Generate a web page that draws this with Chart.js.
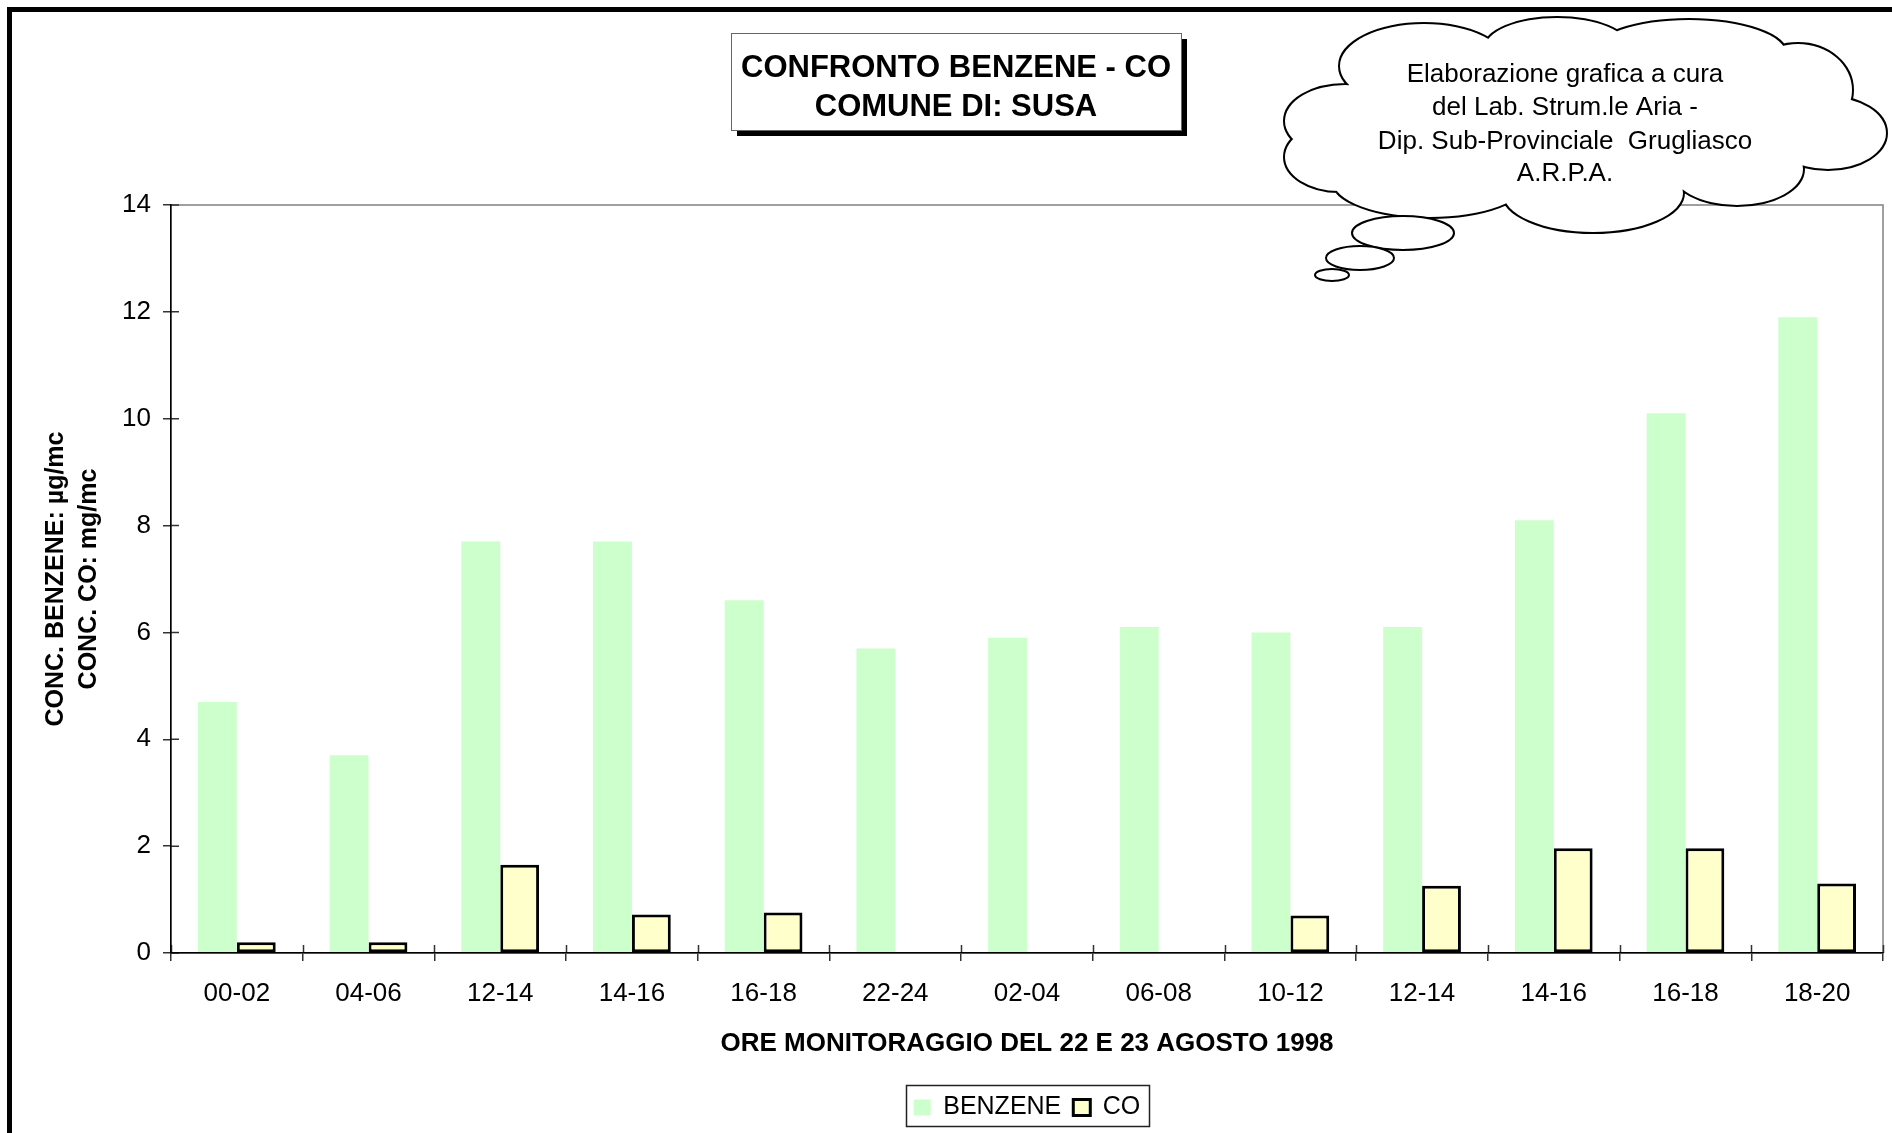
<!DOCTYPE html>
<html>
<head>
<meta charset="utf-8">
<script src="https://cdn.jsdelivr.net/npm/chart.js@4.4.1/dist/chart.umd.min.js"></script>
<style>
  body { margin: 0; background: #fff; }
  canvas { display: block; }
</style>
</head>
<body>
<canvas id="grafico" width="1892" height="1133"></canvas>
<script>
// fasce orarie 22-23 agosto 1998
const fasceOrarie = ['00-02', '04-06', '12-14', '14-16', '16-18', '22-24', '02-04', '06-08', '10-12', '12-14', '14-16', '16-18', '18-20'];
// benzene in ug/mc
const datiBenzene = [4.7, 3.7, 7.7, 7.7, 6.6, 5.7, 5.9, 6.1, 6.0, 6.1, 8.1, 10.1, 11.9];
// CO in mg/mc (nessun dato 22-24, 02-04, 06-08)
const datiCO = [0.2, 0.2, 1.65, 0.72, 0.76, null, null, null, 0.7, 1.26, 1.96, 1.96, 1.3];
const tickY = [0, 2, 4, 6, 8, 10, 12, 14];

const FONT = "'Liberation Sans', Arial, sans-serif";

// sfondo bianco + cornice area del grafico
const sfondo = {
    id: 'sfondo',
    beforeDraw(chart) {
        const ctx = chart.ctx;
        ctx.save();
        ctx.fillStyle = '#fff';
        ctx.fillRect(0, 0, chart.width, chart.height);
        ctx.restore();
    },
    beforeDatasetsDraw(chart) {
        const {ctx, chartArea: a} = chart;
        ctx.save();
        ctx.strokeStyle = '#808080';
        ctx.lineWidth = 1.5;
        ctx.strokeRect(a.left, a.top, a.right - a.left, a.bottom - a.top);
        ctx.restore();
    }
};

// tacche che attraversano gli assi (parte interna)
const tacche = {
    id: 'tacche',
    afterDatasetsDraw(chart) {
        const {ctx, scales: {x, y}} = chart;
        ctx.save();
        ctx.strokeStyle = '#333';
        ctx.lineWidth = 1.5;
        ctx.beginPath();
        const n = fasceOrarie.length;
        for (let i = 0; i <= n; i++) {
            const px = Math.round(x.left + i * (x.right - x.left) / n) + 0.5;
            ctx.moveTo(px, x.top);
            ctx.lineTo(px, x.top - 8);
        }
        tickY.forEach(v => {
            const py = y.getPixelForValue(v);
            ctx.moveTo(y.right, py);
            ctx.lineTo(y.right + 8, py);
        });
        ctx.stroke();
        ctx.restore();
    }
};

function ellisse(ctx, cx, cy, rx, ry) {
    ctx.moveTo(cx + rx, cy);
    ctx.ellipse(cx, cy, rx, ry, 0, 0, Math.PI * 2);
}

// titolo, nuvoletta, bordo legenda, cornice esterna
const decorazioni = {
    id: 'decorazioni',
    afterDraw(chart) {
        const ctx = chart.ctx;
        ctx.save();

        // riquadro titolo con ombra
        ctx.fillStyle = '#000';
        ctx.fillRect(737, 39, 450, 97);
        ctx.fillStyle = '#fff';
        ctx.fillRect(731, 33, 450, 97);
        ctx.strokeStyle = '#666';
        ctx.lineWidth = 1;
        ctx.strokeRect(731.5, 33.5, 450, 97);
        ctx.fillStyle = '#000';
        ctx.font = 'bold 31px ' + FONT;
        ctx.textAlign = 'center';
        ctx.textBaseline = 'middle';
        ctx.fillText('CONFRONTO BENZENE - CO', 956, 68);
        ctx.fillText('COMUNE DI: SUSA', 956, 107);

        // nuvoletta
        const bolle = [
            [1345, 121, 60, 36], [1424, 66, 84, 42], [1557, 48, 72, 30],
            [1689, 54, 97, 34], [1798, 90, 54, 46], [1828, 133, 58, 36],
            [1737, 169, 66, 36], [1593, 193, 90, 39], [1430, 181, 97, 36],
            [1339, 157, 54, 34]
        ];
        ctx.beginPath();
        bolle.forEach(b => ellisse(ctx, b[0], b[1], b[2], b[3]));
        ctx.strokeStyle = '#000';
        ctx.lineWidth = 4;
        ctx.stroke();
        ctx.fillStyle = '#fff';
        ctx.fill();
        // riempimento centrale
        ctx.beginPath();
        ellisse(ctx, 1585, 118, 240, 72);
        ctx.fill();

        [[1403, 233, 51, 17], [1360, 258, 34, 12], [1332, 275, 17, 6]].forEach(b => {
            ctx.beginPath();
            ellisse(ctx, b[0], b[1], b[2], b[3]);
            ctx.fillStyle = '#fff';
            ctx.fill();
            ctx.lineWidth = 2;
            ctx.stroke();
        });

        ctx.fillStyle = '#000';
        ctx.font = '26px ' + FONT;
        ctx.fillText('Elaborazione grafica a cura', 1565, 75);
        ctx.fillText('del Lab. Strum.le Aria -', 1565, 108);
        ctx.fillText('Dip. Sub-Provinciale  Grugliasco', 1565, 142);
        ctx.fillText('A.R.P.A.', 1565, 174);

        // bordo legenda
        const hb = chart.legend.legendHitBoxes;
        if (hb && hb.length) {
            const ultimo = hb[hb.length - 1];
            const l = hb[0].left - 8, r = ultimo.left + ultimo.width + 8;
            const t = hb[0].top - 10, b = hb[0].top + hb[0].height + 6;
            ctx.strokeStyle = '#222';
            ctx.lineWidth = 1.5;
            ctx.strokeRect(Math.round(l) + 0.5, Math.round(t) + 0.5, Math.round(r - l), Math.round(b - t));
        }

        // cornice esterna spessa
        ctx.strokeStyle = '#000';
        ctx.lineWidth = 5;
        ctx.strokeRect(9.5, 9.5, 2400, 2400);
        ctx.restore();
    }
};

new Chart(document.getElementById('grafico'), {
    type: 'bar',
    data: {
        labels: fasceOrarie,
        datasets: [{
            label: 'BENZENE',
            data: datiBenzene,
            backgroundColor: '#CCFFCC',
            borderWidth: 0
        }, {
            label: 'CO',
            data: datiCO,
            backgroundColor: '#FFFFCC',
            borderColor: '#000',
            borderWidth: 3,
            borderSkipped: false
        }]
    },
    options: {
        responsive: false,
        devicePixelRatio: 1,
        animation: false,
        layout: {
            padding: {top: 205, right: 9, bottom: 3, left: 0}
        },
        datasets: {
            bar: {
                categoryPercentage: 0.59,
                barPercentage: 1.0
            }
        },
        plugins: {
            title: {display: false},
            tooltip: {enabled: false},
            legend: {
                display: true,
                position: 'bottom',
                fullSize: false,
                labels: {
                    font: {family: FONT, size: 25},
                    color: '#000',
                    boxWidth: 17,
                    boxHeight: 16,
                    padding: 12
                }
            }
        },
        scales: {
            x: {
                afterFit: s => { s.height = 130; },
                grid: {
                    display: true,
                    drawOnChartArea: false,
                    drawTicks: true,
                    tickLength: 8,
                    color: '#333',
                    lineWidth: 1.5
                },
                border: {display: true, color: '#000', width: 1.5, z: 1},
                ticks: {
                    font: {family: FONT, size: 26},
                    color: '#000',
                    padding: 17,
                    maxRotation: 0,
                    autoSkip: false
                },
                title: {
                    display: true,
                    text: 'ORE MONITORAGGIO DEL 22 E 23 AGOSTO 1998',
                    font: {family: FONT, size: 26, weight: 'bold'},
                    color: '#000',
                    padding: {top: 0, bottom: 24}
                }
            },
            y: {
                min: 0,
                max: 14,
                afterFit: s => { s.width = 171; },
                afterBuildTicks: s => { s.ticks = tickY.map(v => ({value: v})); },
                grid: {
                    display: true,
                    drawOnChartArea: false,
                    drawTicks: true,
                    tickLength: 8,
                    color: '#333',
                    lineWidth: 1.5
                },
                border: {display: true, color: '#000', width: 1.5, z: 1},
                ticks: {
                    font: {family: FONT, size: 26},
                    color: '#000',
                    padding: 12
                },
                title: {
                    display: true,
                    text: ['CONC. BENZENE: µg/mc', 'CONC. CO: mg/mc'],
                    font: {family: FONT, size: 25, weight: 'bold', lineHeight: 1.3},
                    color: '#000',
                    padding: {top: 40, bottom: 0}
                }
            }
        }
    },
    plugins: [sfondo, tacche, decorazioni]
});
</script>
</body>
</html>
